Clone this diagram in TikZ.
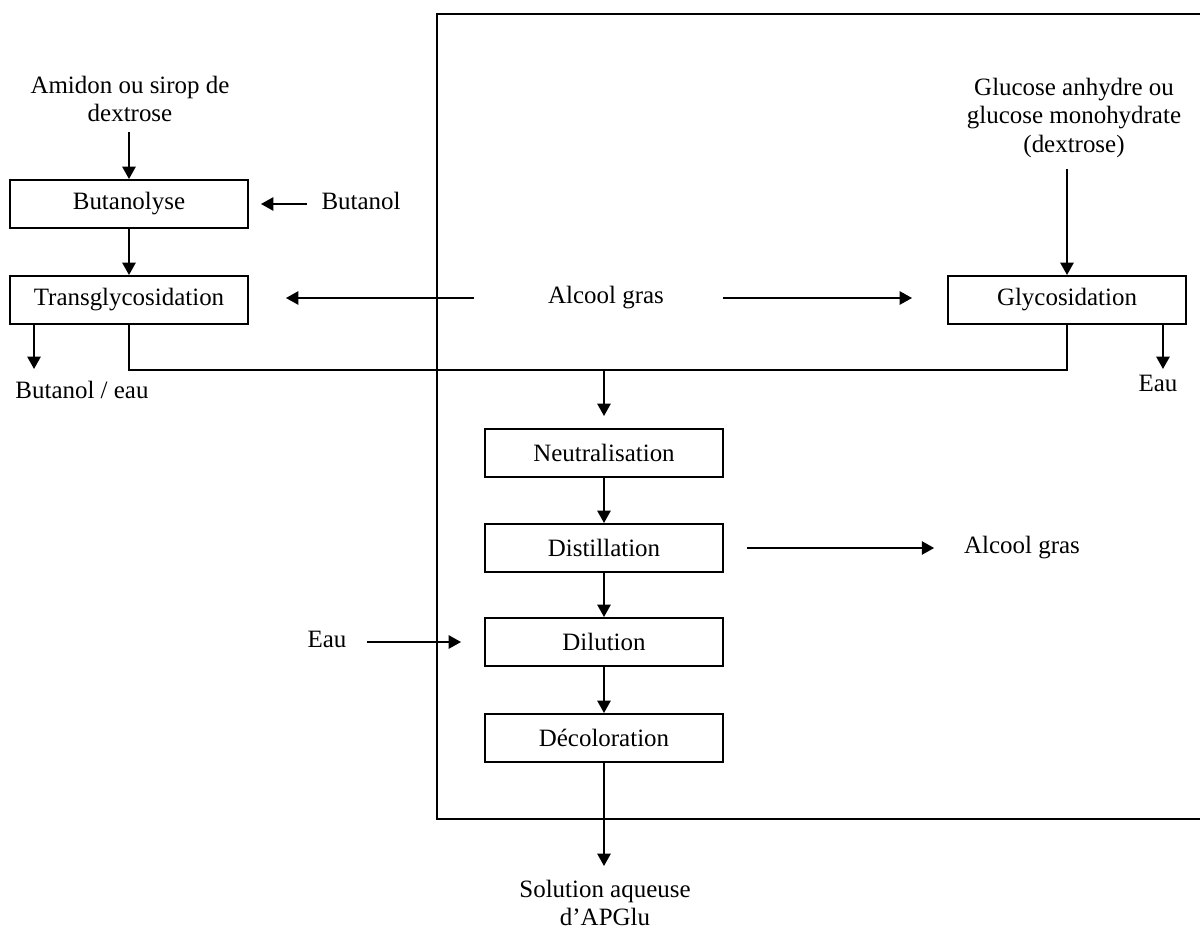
\documentclass[tikz,border=0pt]{standalone}
\usepackage{fontspec}
\setmainfont{Liberation Serif}
\usetikzlibrary{arrows.meta,calc}
\begin{document}
\begin{tikzpicture}[x=0.02cm,y=-0.02cm,
  font=\fontsize{14.2pt}{16.2pt}\selectfont,
  line width=0.04cm,
  arr/.style={-{Triangle[length=7pt,width=7.5pt]}},
  stage/.style={draw, minimum width=4.76cm, minimum height=0.96cm, inner sep=0pt},
  lbl/.style={inner sep=0pt, text height=0.66em, text depth=0pt},
  multi/.style={inner sep=0pt, align=center}]
\useasboundingbox (0,0) rectangle (1200,929);

% outer frame, open to the right
\draw (1200,14) -- (437,14) -- (437,819) -- (1200,819);

% process stages
\node[stage] (butanolyse) at (129,204) {Butanolyse};
\node[stage] (transgly)   at (129,300) {Transglycosidation};
\node[stage] (glyco)      at (1067,300) {Glycosidation};
\node[stage] (neutral)    at (604,453) {Neutralisation};
\node[stage] (distill)    at (604,548) {Distillation};
\node[stage] (dilution)   at (604,642) {Dilution};
\node[stage] (decolor)    at (604,738) {Décoloration};

% inputs and outputs
\node[multi, anchor=south] (amidon) at (130,123) {Amidon ou sirop de\\dextrose};
\node[lbl] (butanol)  at (361,204) {Butanol};
\node[lbl] (alcool)   at (606,298) {Alcool gras};
\node[lbl] (butaneau) at (82,393) {Butanol / eau};
\node[multi, anchor=north] (glucose) at (1074,77) {Glucose anhydre ou\\glucose monohydrate\\(dextrose)};
\node[lbl] (eau1)     at (1158,386) {Eau};
\node[lbl] (alcool2)  at (1022,548) {Alcool gras};
\node[lbl] (eau2)     at (327,642) {Eau};
\node[multi, anchor=north] (solution) at (605,879) {Solution aqueuse\\d’APGlu};

% connectors
\draw[arr, shorten <=0.18cm] (amidon.south -| butanolyse.north) -- (butanolyse.north);
\draw[arr] (butanolyse) -- (transgly);
\draw[arr, shorten <=0.28cm, shorten >=0.24cm] (butanol.west) -- (butanol.west -| butanolyse.east);
\draw[arr, shorten <=1.46cm, shorten >=0.74cm] (alcool.west) -- (alcool.west -| transgly.east);
\draw[arr, shorten <=1.16cm, shorten >=0.70cm] (alcool.east) -- (alcool.east -| glyco.west);
\draw[arr, shorten <=0.21cm] (glucose.south -| glyco.north) -- (glyco.north);
\draw[arr] ($(transgly.south west)+(25,0)$) -- ++(0,44);
\draw[arr] ($(glyco.south east)+(-24,0)$) -- ++(0,44);

\coordinate (merge) at (604,370);
\draw (transgly.south) |- (merge) -| (glyco.south);
\draw[arr, shorten >=0.24cm] (merge) -- (neutral.north);
\draw[arr] (neutral) -- (distill);
\draw[arr] (distill) -- (dilution);
\draw[arr] (dilution) -- (decolor);
\draw[arr, shorten <=0.46cm, shorten >=0.58cm] (distill.east) -- (distill.east -| alcool2.west);
\draw[arr, shorten <=0.39cm, shorten >=0.46cm] (eau2.east) -- (eau2.east -| dilution.west);
\draw[arr, shorten >=0.26cm] (decolor.south) -- (decolor.south |- solution.north);
\end{tikzpicture}
\end{document}
